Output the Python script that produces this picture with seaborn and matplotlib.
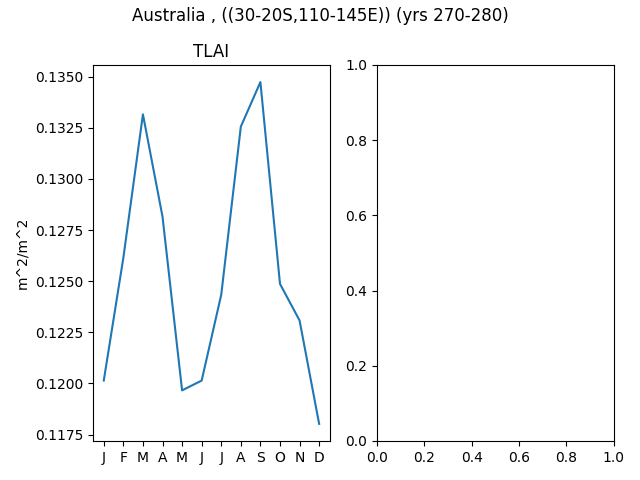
import numpy as np
import pandas as pd
import matplotlib
matplotlib.use('Agg')
import matplotlib.pyplot as plt
import seaborn as sns

months = ['J', 'F', 'M', 'A', 'M', 'J', 'J', 'A', 'S', 'O', 'N', 'D']
tlai = [0.12014, 0.12614, 0.13316, 0.12816, 0.11966, 0.12014,
        0.12434, 0.13256, 0.13474, 0.12487, 0.12308, 0.11802]

df = pd.DataFrame({'month': np.arange(12), 'TLAI': tlai})

fig, axes = plt.subplots(1, 2, figsize=(6.4, 4.8), dpi=100)
sns.lineplot(data=df, x='month', y='TLAI', ax=axes[0])
axes[0].set_xticks(np.arange(12))
axes[0].set_xticklabels(months)
axes[0].set_xlabel('')
axes[0].set_ylabel('m^2/m^2')
axes[0].set_title('TLAI')
fig.suptitle('Australia , ((30-20S,110-145E)) (yrs 270-280)', y=0.985)
fig.subplots_adjust(left=0.1453, right=0.959, top=0.8646, bottom=0.08125, wspace=0.198)
plt.savefig('out.png')
